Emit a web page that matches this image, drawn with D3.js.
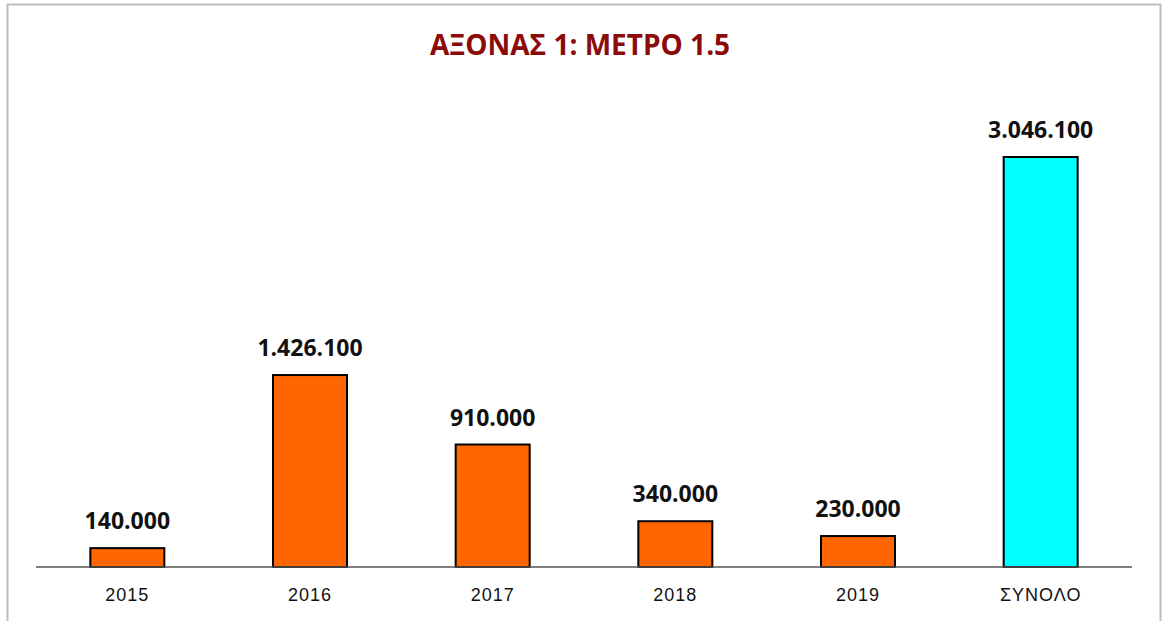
<html>
  <head>
    <meta charset="UTF-8">
    <script src="https://d3js.org/d3.v7.min.js"></script>
    <title>ΑΞΟΝΑΣ 1: ΜΕΤΡΟ 1.5</title>
    <style>
      body { margin: 0; background: #fff; }
    </style>
  </head>
  <body>
    <script type="text/javascript">

      // data
      var categories = ['2015', '2016', '2017', '2018', '2019', 'ΣΥΝΟΛΟ'];
      var values = [140000, 1426100, 910000, 340000, 230000, 3046100];
      var barColors = ['#FF6600', '#FF6600', '#FF6600', '#FF6600', '#FF6600', '#00FFFF'];
      var title = 'ΑΞΟΝΑΣ 1: ΜΕΤΡΟ 1.5';

      var width = 1162;
      var height = 621;

      var svg = d3.select('body')
                  .append('svg')
                  .attr('width', width)
                  .attr('height', height);

      // chart area frame
      svg.append('rect')
         .attr('x', 7.5)
         .attr('y', 4.5)
         .attr('width', 1153)
         .attr('height', 630)
         .style('fill', 'none')
         .style('stroke', '#bdbdbd')
         .style('stroke-width', 2);

      svg.append('text')
         .attr('x', 580)
         .attr('y', 55)
         .attr('text-anchor', 'middle')
         .style('font-family', '"Open Sans", sans-serif')
         .style('font-weight', 'bold')
         .style('font-size', '28px')
         .style('fill', '#8B0A0A')
         .text(title);

      var x = d3.scaleBand()
          .domain(categories)
          .range([36, 1132])
          .paddingInner(0.595)
          .paddingOuter(0.2975);

      var y = d3.scaleLinear()
          .domain([0, 3046100])
          .range([567, 157]);

      var data = categories.map(function(c, i) {
        return {cat: c, value: values[i], color: barColors[i]};
      });

      svg.selectAll('rect.bar')
         .data(data)
         .enter()
         .append('rect')
         .attr('class', 'bar')
         .attr('x', function(d){ return x(d.cat); })
         .attr('y', function(d){ return y(d.value); })
         .attr('width', x.bandwidth())
         .attr('height', function(d){ return y(0) - y(d.value); })
         .style('fill', function(d){ return d.color; })
         .style('stroke', '#000')
         .style('stroke-width', 2);

      // baseline axis
      var axis = svg.append('g')
          .attr('transform', 'translate(0,' + y(0) + ')')
          .call(d3.axisBottom(x).tickSize(0).tickPadding(21));
      axis.select('.domain')
          .attr('d', 'M36,0H1132')
          .style('stroke', '#555')
          .style('stroke-width', 1.5);
      axis.selectAll('text')
          .style('font-family', '"Liberation Sans", Arial, sans-serif')
          .style('font-size', '18px')
          .style('letter-spacing', '1px')
          .style('fill', '#111');

      // value labels
      var fmt = function(v) {
        return d3.format(',')(v).replace(/,/g, '.');
      };
      svg.selectAll('text.val')
         .data(data)
         .enter()
         .append('text')
         .attr('class', 'val')
         .attr('x', function(d){ return x(d.cat) + x.bandwidth() / 2; })
         .attr('y', function(d){ return y(d.value) - 19; })
         .attr('text-anchor', 'middle')
         .style('font-family', '"Open Sans", sans-serif')
         .style('font-weight', 'bold')
         .style('font-size', '23px')
         .style('fill', '#111')
         .text(function(d){ return fmt(d.value); });

    </script>
  </body>
</html>
